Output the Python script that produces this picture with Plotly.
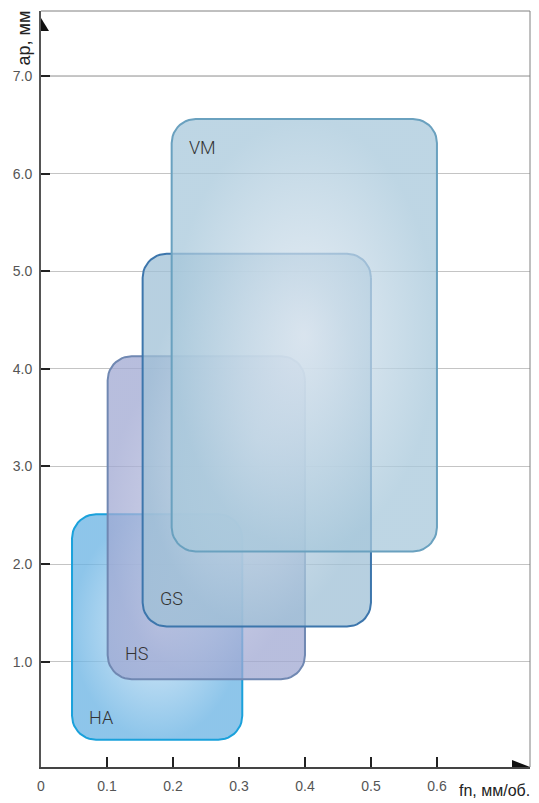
import numpy as np
import plotly.graph_objects as go

# ---- data ----
regions = ["HA", "HS", "GS", "VM"]
feed_min = [0.047, 0.101, 0.154, 0.198]      # fn, mm/rev
feed_max = [0.305, 0.400, 0.500, 0.600]
depth_min = [0.20, 0.82, 1.36, 2.13]         # ap, mm
depth_max = [2.51, 4.13, 5.18, 6.56]

x_tickvals = [0, 0.1, 0.2, 0.3, 0.4, 0.5, 0.6]
x_ticktext = ["0", "0.1", "0.2", "0.3", "0.4", "0.5", "0.6"]
y_tickvals = [1, 2, 3, 4, 5, 6, 7]
y_ticktext = ["1.0", "2.0", "3.0", "4.0", "5.0", "6.0", "7.0"]

# ---- styles ----
edge_fill = ["rgba(104,178,227,0.75)", "rgba(160,168,210,0.75)",
             "rgba(159,192,214,0.75)", "rgba(168,200,219,0.75)"]
center_fill = ["rgba(205,228,246,0.75)", "rgba(198,201,227,0.75)",
               "rgba(214,226,237,0.75)", "rgba(224,232,241,0.75)"]
stroke = ["#1aa1db", "#7088b2", "#3d76ac", "#6aa1bf"]
label_pos = ["bottom", "bottom", "bottom", "top"]

# page body has an 8px default margin -> compensate
W, H = 531, 795
ML, MR, MT, MB = 33, 9, 3, 36
XR = [0, 0.741]
YR = [-0.079, 7.667]
px_x = (W - ML - MR) / (XR[1] - XR[0])
px_y = (H - MT - MB) / (YR[1] - YR[0])
R = 24  # corner radius in px


def rounded_rect(x0, x1, y0, y1, r=R, n=12):
    rx, ry = r / px_x, r / px_y
    xs, ys = [], []
    corners = [(x1 - rx, y1 - ry, 0, 90), (x0 + rx, y1 - ry, 90, 180),
               (x0 + rx, y0 + ry, 180, 270), (x1 - rx, y0 + ry, 270, 360)]
    for cx, cy, a0, a1 in corners:
        t = np.radians(np.linspace(a0, a1, n))
        xs.extend(cx + rx * np.cos(t))
        ys.extend(cy + ry * np.sin(t))
    xs.append(xs[0]); ys.append(ys[0])
    return xs, ys


fig = go.Figure()
for i, name in enumerate(regions):
    xs, ys = rounded_rect(feed_min[i], feed_max[i], depth_min[i], depth_max[i])
    fig.add_trace(go.Scatter(
        x=xs, y=ys, mode="lines", fill="toself",
        fillgradient=dict(type="radial",
                          colorscale=[[0, center_fill[i]], [1, edge_fill[i]]]),
        line=dict(color=stroke[i], width=2),
        hoverinfo="skip", showlegend=False, name=name))

annotations = []
for i, name in enumerate(regions):
    if label_pos[i] == "bottom":
        annotations.append(dict(x=feed_min[i], y=depth_min[i], xref="x", yref="y",
                                text=name, showarrow=False, xanchor="left",
                                yanchor="bottom", xshift=15, yshift=10 + 3 * i))
    else:
        annotations.append(dict(x=feed_min[i], y=depth_max[i], xref="x", yref="y",
                                text=name, showarrow=False, xanchor="left",
                                yanchor="top", xshift=15, yshift=-16))
for a in annotations:
    a["font"] = dict(family="Roboto, Liberation Sans, Arial, sans-serif", size=18,
                     color="#333", weight=300)

title_font = dict(family="Liberation Sans, Arial, sans-serif", size=18, color="#222")
annotations.append(dict(text="ap, мм", xref="paper", yref="paper", x=0, y=1,
                        xanchor="right", yanchor="top", xshift=-6, yshift=2,
                        textangle=-90, showarrow=False, font=title_font))
annotations.append(dict(text="fn, мм/об.", xref="paper", yref="paper", x=1, y=0,
                        xanchor="right", yanchor="middle", xshift=2, yshift=-23,
                        showarrow=False, font=dict(title_font, size=16)))

shapes = [
    # darker top grid line at 7.0
    dict(type="line", xref="paper", yref="y", x0=0, x1=1, y0=y_tickvals[-1], y1=y_tickvals[-1],
         line=dict(color="#777", width=1), layer="below"),
    # frame top and right
    dict(type="line", xref="paper", yref="paper", x0=0, x1=1, y0=1, y1=1,
         line=dict(color="#808080", width=1)),
    dict(type="line", xref="paper", yref="paper", x0=1, x1=1, y0=0, y1=1,
         line=dict(color="#808080", width=1)),
    # arrow heads
    dict(type="path", xref="paper", yref="paper", xsizemode="pixel", ysizemode="pixel",
         xanchor=0, yanchor=1, path="M 0 -7 L 0 -20 L 8 -20 Z",
         fillcolor="#111", line=dict(width=0)),
    dict(type="path", xref="paper", yref="paper", xsizemode="pixel", ysizemode="pixel",
         xanchor=1, yanchor=0, path="M -18 7 L -18 0 L 0 0 Z",
         fillcolor="#111", line=dict(width=0)),
]

tick_font = dict(family="Liberation Sans, Arial, sans-serif", size=14, color="#555")
fig.update_layout(
    width=W, height=H, margin=dict(l=ML, r=MR, t=MT, b=MB, pad=0, autoexpand=False),
    paper_bgcolor="white", plot_bgcolor="white",
    annotations=annotations, shapes=shapes, showlegend=False,
    xaxis=dict(range=XR, tickvals=x_tickvals, ticktext=x_ticktext, ticks="inside",
               ticklen=10, tickwidth=2, tickcolor="#222", showgrid=False, zeroline=False,
               showline=True, linecolor="#444", linewidth=2, tickfont=tick_font,
               ticklabelstandoff=5, automargin=False, fixedrange=True),
    yaxis=dict(range=YR, tickvals=y_tickvals, ticktext=y_ticktext, ticks="inside",
               ticklen=9, tickwidth=2, tickcolor="#222", showgrid=True,
               gridcolor="#c4c4c4", gridwidth=1, zeroline=False, showline=True,
               linecolor="#555", linewidth=2, tickfont=tick_font, ticklabelstandoff=4,
               automargin=False, fixedrange=True),
)
fig.write_html("out.html")
